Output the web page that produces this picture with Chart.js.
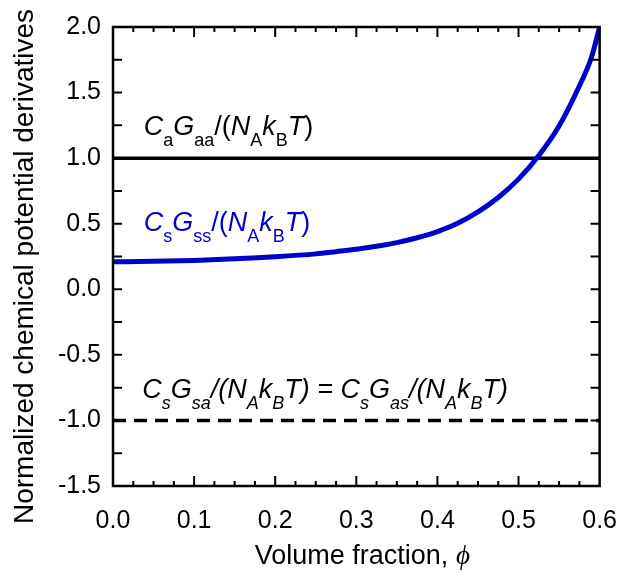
<!DOCTYPE html>
<html>
<head>
<meta charset="utf-8">
<script src="https://cdn.jsdelivr.net/npm/chart.js@4.4.1/dist/chart.umd.min.js"></script>
<style>
  html, body { margin: 0; padding: 0; background: #fff; }
  #wrap { width: 637px; height: 580px; }
</style>
</head>
<body>
<div id="wrap"><canvas id="potChart" width="637" height="580"></canvas></div>
<script>
// volume fraction (x) and normalized CsGss/(NA kB T)
var phi = [0.00, 0.05, 0.10, 0.15, 0.20, 0.25, 0.275, 0.30, 0.325, 0.35, 0.375, 0.40, 0.425, 0.45, 0.475, 0.50, 0.525, 0.55, 0.575, 0.59, 0.60];
var cgss = [0.21, 0.213, 0.22, 0.232, 0.248, 0.27, 0.287, 0.305, 0.328, 0.356, 0.393, 0.44, 0.503, 0.59, 0.70, 0.84, 1.02, 1.245, 1.55, 1.77, 2.00];

// the two flat lines
var flatX = [0.0, 0.6];
var cgaa = [1.0, 1.0];
var cgsa = [-1.0, -1.0];

// axis ticks
var xTicks = [0.0, 0.1, 0.2, 0.3, 0.4, 0.5, 0.6];
var yTicks = [-1.5, -1.0, -0.5, 0.0, 0.5, 1.0, 1.5, 2.0];

var xTitle = 'Volume fraction, ';
var xTitleSym = '\u03d5';
var yTitle = 'Normalized chemical potential derivatives';

// labels: [text, subscript?, italic?]
var lblAA = [['C', 0, 1], ['a', 1, 0], ['G', 0, 1], ['aa', 1, 0], ['/(', 0, 0], ['N', 0, 1], ['A', 1, 0], ['k', 0, 1], ['B', 1, 0], ['T', 0, 1], [')', 0, 0]];
var lblSS = [['C', 0, 1], ['s', 1, 0], ['G', 0, 1], ['ss', 1, 0], ['/(', 0, 0], ['N', 0, 1], ['A', 1, 0], ['k', 0, 1], ['B', 1, 0], ['T', 0, 1], [')', 0, 0]];
var lblSA = [['C', 0, 1], ['s', 1, 1], ['G', 0, 1], ['sa', 1, 1], ['/(', 0, 1], ['N', 0, 1], ['A', 1, 1], ['k', 0, 1], ['B', 1, 1], ['T', 0, 1], [') = ', 0, 1],
             ['C', 0, 1], ['s', 1, 1], ['G', 0, 1], ['as', 1, 1], ['/(', 0, 1], ['N', 0, 1], ['A', 1, 1], ['k', 0, 1], ['B', 1, 1], ['T', 0, 1], [')', 0, 1]];

var FONT = "'Liberation Sans', Arial, sans-serif";
var SERIF = "'Liberation Serif', 'DejaVu Serif', serif";
var BLUE = '#0000cc';

function toPts(xs, ys) {
    var out = [];
    for (var i = 0; i < xs.length; i++) out.push({ x: xs[i], y: ys[i] });
    return out;
}

function drawRich(ctx, parts, x, y, color) {
    ctx.save();
    ctx.fillStyle = color;
    ctx.textBaseline = 'alphabetic';
    ctx.textAlign = 'left';
    for (var i = 0; i < parts.length; i++) {
        var p = parts[i];
        var size = p[1] ? 18 : 27;
        ctx.font = (p[2] ? 'italic ' : '') + size + 'px ' + FONT;
        ctx.fillText(p[0], x, p[1] ? y + 11 : y);
        x += ctx.measureText(p[0]).width;
    }
    ctx.restore();
}

// frame, inward ticks, titles and labels
var decor = {
    id: 'decor',
    afterDraw: function(chart) {
        var ctx = chart.ctx;
        var a = chart.chartArea;
        var sx = chart.scales.x, sy = chart.scales.y;
        ctx.save();
        ctx.strokeStyle = '#000';
        ctx.lineWidth = 2.5;
        ctx.strokeRect(a.left, a.top, a.right - a.left, a.bottom - a.top);
        ctx.lineWidth = 2;
        ctx.beginPath();
        for (var i = 1; i < 24; i++) {
            var px = sx.getPixelForValue(i * 0.025);
            var len = (i % 4 === 0) ? 10 : 5;
            ctx.moveTo(px, a.bottom); ctx.lineTo(px, a.bottom - len);
            ctx.moveTo(px, a.top); ctx.lineTo(px, a.top + len);
        }
        for (var j = 1; j < 14; j++) {
            var py = sy.getPixelForValue(-1.5 + j * 0.25);
            ctx.moveTo(a.left, py); ctx.lineTo(a.left + 9, py);
            ctx.moveTo(a.right, py); ctx.lineTo(a.right - 9, py);
        }
        ctx.stroke();

        // axis titles
        ctx.fillStyle = '#000';
        ctx.textBaseline = 'alphabetic';
        ctx.font = '27px ' + FONT;
        var w1 = ctx.measureText(xTitle).width;
        ctx.font = 'italic 27px ' + SERIF;
        var w2 = ctx.measureText(xTitleSym).width;
        var x0 = (a.left + a.right) / 2 + 6 - (w1 + w2) / 2;
        ctx.textAlign = 'left';
        ctx.font = '27px ' + FONT;
        ctx.fillText(xTitle, x0, 564);
        ctx.font = 'italic 27px ' + SERIF;
        ctx.fillText(xTitleSym, x0 + w1, 564);

        ctx.translate(33, (a.top + a.bottom) / 2 + 10);
        ctx.rotate(-Math.PI / 2);
        ctx.textAlign = 'center';
        ctx.font = '28px ' + FONT;
        ctx.fillText(yTitle, 0, 0);
        ctx.restore();

        drawRich(ctx, lblAA, sx.getPixelForValue(0.038), sy.getPixelForValue(1.18), '#000');
        drawRich(ctx, lblSS, sx.getPixelForValue(0.038), sy.getPixelForValue(0.445), BLUE);
        drawRich(ctx, lblSA, sx.getPixelForValue(0.036), sy.getPixelForValue(-0.83), '#000');
    }
};

const ctx = document.getElementById('potChart');
var potChart = new Chart(ctx, {
    type: 'line',
    data: {
        datasets: [{
            data: toPts(phi, cgss),
            borderColor: BLUE,
            borderWidth: 5,
            pointRadius: 0,
            cubicInterpolationMode: 'monotone'
        }, {
            data: toPts(flatX, cgaa),
            borderColor: '#000',
            borderWidth: 3.5,
            pointRadius: 0
        }, {
            data: toPts(flatX, cgsa),
            borderColor: '#000',
            borderWidth: 3.5,
            borderDash: [13, 8],
            pointRadius: 0
        }]
    },
    options: {
        responsive: false,
        animation: false,
        events: [],
        layout: { padding: { top: 23, right: 32, left: 0, bottom: 0 } },
        plugins: { legend: { display: false }, tooltip: { enabled: false } },
        scales: {
            x: {
                type: 'linear',
                min: 0, max: 0.6,
                afterBuildTicks: function(s) { s.ticks = xTicks.map(function(v) { return { value: v }; }); },
                afterFit: function(s) { s.height = 94; },
                ticks: {
                    color: '#000',
                    padding: 20,
                    maxRotation: 0,
                    font: { family: FONT, size: 25 },
                    callback: function(v) { return v.toFixed(1); }
                },
                grid: { display: false, drawTicks: false },
                border: { display: false }
            },
            y: {
                min: -1.5, max: 2,
                afterBuildTicks: function(s) { s.ticks = yTicks.map(function(v) { return { value: v }; }); },
                afterFit: function(s) { s.width = 113; },
                ticks: {
                    color: '#000',
                    padding: 12,
                    font: { family: FONT, size: 25 },
                    callback: function(v) { return v.toFixed(1); }
                },
                grid: { display: false, drawTicks: false },
                border: { display: false }
            }
        }
    },
    plugins: [decor]
});
</script>
</body>
</html>
